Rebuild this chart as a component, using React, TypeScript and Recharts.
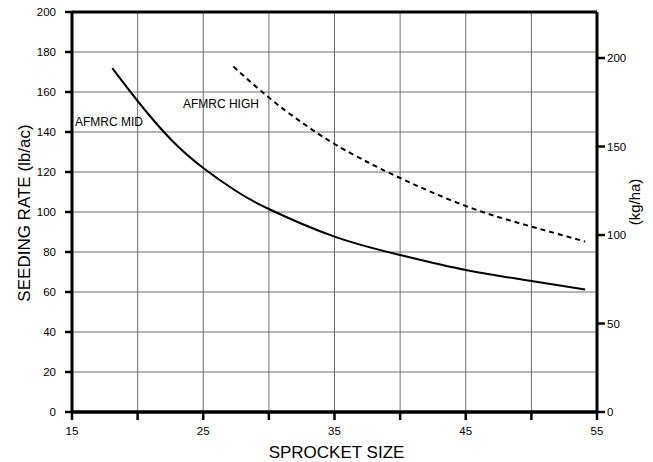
import React from 'react';
import { LineChart, Line, XAxis, YAxis, CartesianGrid, ReferenceLine, ReferenceDot } from 'recharts';

// Sprocket sizes and seeding rates (lb/ac)
const midSprocket = [18.07, 20, 22.5, 25, 27.5, 30, 35, 40, 45, 50, 54.1];
const midRate = [171.9, 155.5, 136.5, 122, 110.5, 101.5, 87.7, 78.5, 71, 65.5, 61.3];
const highSprocket = [27.3, 30, 32.5, 35, 37.5, 40, 45, 50, 54.1];
const highRate = [172.7, 157.2, 144.8, 134, 125, 117, 103, 92.7, 85.2];

// Axis ticks
const xTicks = [15, 20, 25, 30, 35, 40, 45, 50, 55];
const xLabelTicks = [15, 25, 35, 45, 55];
const lbTicks = [0, 20, 40, 60, 80, 100, 120, 140, 160, 180, 200];
const kgTicks = [0, 50, 100, 150, 200];
const kgMax = 226;

const seriesNames = ['AFMRC MID', 'AFMRC HIGH'];
const midLabelAnchor = { x: 15.23, y: 143 };
const highLabelAnchor = { x: 23.45, y: 151.8 };

const FONT = '"Liberation Sans", Arial, Helvetica, sans-serif';

const midData = midSprocket.map((x, i) => ({ x, y: midRate[i] }));
const highData = highSprocket.map((x, i) => ({ x, y: highRate[i] }));
const noData: { x: number; y: number }[] = [];

const tickStyle = { fontSize: 11.5, fill: '#000', fontFamily: FONT };

const textShape = (label: string) => (p: any) => (
  <text x={p.cx} y={p.cy} fontSize={12} fontFamily={FONT} fill="#000" textAnchor="start">
    {label}
  </text>
);

export default function App() {
  return (
    <div style={{ position: 'absolute', left: 0, top: 0, width: 653, height: 462, background: '#fff' }}>
      <LineChart width={653} height={462} margin={{ top: 12, right: 0, bottom: 0, left: 0 }}>
        <CartesianGrid yAxisId="left" stroke="#6e6e6e" strokeWidth={1} />
        <XAxis
          dataKey="x"
          type="number"
          domain={[15, 55]}
          ticks={xTicks}
          allowDataOverflow
          tickFormatter={(v: number) => (xLabelTicks.includes(v) ? String(v) : '')}
          height={50}
          axisLine={{ stroke: '#000', strokeWidth: 3 }}
          tickLine={{ stroke: '#000', strokeWidth: 2.5 }}
          tickSize={8}
          tickMargin={7}
          tick={tickStyle}
          label={{
            content: (props: any) => {
              const vb = props.viewBox || { x: 72, y: 412, width: 525, height: 50 };
              const cx = vb.x + vb.width / 2 + 2;
              return (
                <text x={cx} y={vb.y + 46} textAnchor="middle" fontSize={17} fontFamily={FONT} fill="#000">
                  SPROCKET SIZE
                </text>
              );
            },
          }}
        />
        <YAxis
          yAxisId="left"
          type="number"
          domain={[0, 200]}
          ticks={lbTicks}
          width={72}
          axisLine={{ stroke: '#000', strokeWidth: 3 }}
          tickLine={{ stroke: '#000', strokeWidth: 2.5 }}
          tickSize={7}
          tickMargin={9}
          tick={tickStyle}
          label={{
            content: (props: any) => {
              const vb = props.viewBox || { x: 0, y: 12, width: 72, height: 400 };
              const x = vb.x + 30;
              const y = vb.y + vb.height / 2 + 1;
              return (
                <text x={x} y={y} transform={`rotate(-90 ${x} ${y})`} textAnchor="middle" fontSize={17} fontFamily={FONT} fill="#000">
                  SEEDING RATE (lb/ac)
                </text>
              );
            },
          }}
        />
        <YAxis
          yAxisId="right"
          orientation="right"
          type="number"
          domain={[0, kgMax]}
          allowDataOverflow
          ticks={kgTicks}
          width={56}
          axisLine={{ stroke: '#000', strokeWidth: 3 }}
          tickLine={{ stroke: '#000', strokeWidth: 2.5 }}
          tickSize={8}
          tickMargin={2}
          tick={tickStyle}
          label={{
            content: (props: any) => {
              const vb = props.viewBox || { x: 597, y: 12, width: 56, height: 400 };
              const x = vb.x + 43;
              const y = vb.y + 190;
              return (
                <text x={x} y={y} transform={`rotate(-90 ${x} ${y})`} textAnchor="middle" fontSize={15} fontFamily={FONT} fill="#000">
                  (kg/ha)
                </text>
              );
            },
          }}
        />
        <ReferenceLine yAxisId="left" y={200} stroke="#000" strokeWidth={3} />
        <ReferenceLine yAxisId="right" y={0} stroke="#000" strokeWidth={3} />
        <Line
          yAxisId="right"
          data={noData}
          dataKey="y"
          stroke="none"
          dot={false}
          legendType="none"
          isAnimationActive={false}
        />
        <Line
          yAxisId="left"
          data={midData}
          dataKey="y"
          name={seriesNames[0]}
          type="natural"
          stroke="#000"
          strokeWidth={2}
          dot={false}
          isAnimationActive={false}
        />
        <Line
          yAxisId="left"
          data={highData}
          dataKey="y"
          name={seriesNames[1]}
          type="natural"
          stroke="#000"
          strokeWidth={2}
          strokeDasharray="5 4"
          dot={false}
          isAnimationActive={false}
        />
        <ReferenceDot yAxisId="left" x={midLabelAnchor.x} y={midLabelAnchor.y} r={0} shape={textShape(seriesNames[0])} />
        <ReferenceDot yAxisId="left" x={highLabelAnchor.x} y={highLabelAnchor.y} r={0} shape={textShape(seriesNames[1])} />
      </LineChart>
    </div>
  );
}
